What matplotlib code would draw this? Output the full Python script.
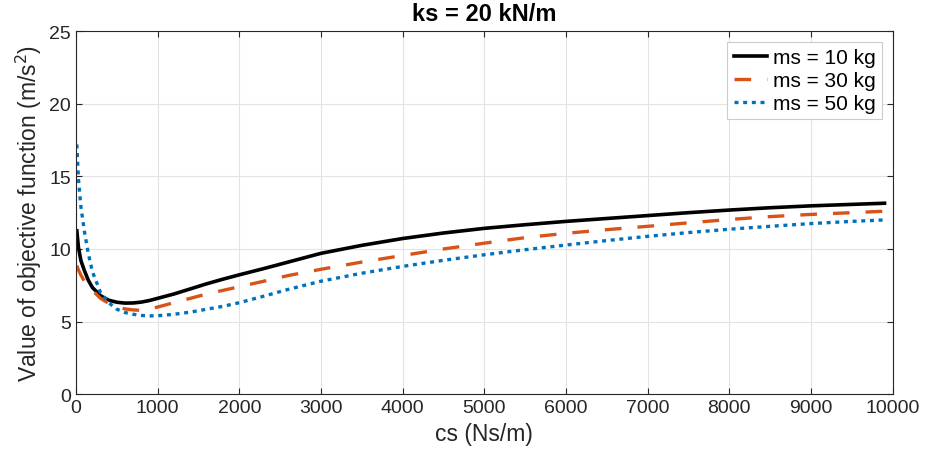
import matplotlib.pyplot as plt

plt.rcParams['font.family'] = ['Liberation Sans', 'DejaVu Sans']

# damping coefficient sweep (Ns/m)
cs = [10, 30, 60, 100, 150, 200, 300, 400, 500, 600, 700, 800, 900, 1000,
      1200, 1400, 1600, 1800, 2000, 2300, 2600, 3000, 3500, 4000, 4500,
      5000, 5500, 6000, 6500, 7000, 7500, 8000, 8500, 9000, 9500, 9900]

# objective function value (m/s^2) for each sprung mass
obj_ms10 = [11.25, 10.1, 9.2, 8.55, 7.85, 7.35, 6.78, 6.47, 6.33, 6.27, 6.28,
            6.34, 6.45, 6.6, 6.9, 7.25, 7.6, 7.92, 8.22, 8.65, 9.1, 9.7, 10.25,
            10.72, 11.1, 11.42, 11.67, 11.9, 12.1, 12.3, 12.5, 12.68, 12.84,
            12.97, 13.07, 13.15]
obj_ms30 = [8.85, 8.55, 8.2, 7.8, 7.45, 7.15, 6.6, 6.25, 6.0, 5.87, 5.8, 5.77,
            5.85, 6.0, 6.3, 6.6, 6.9, 7.15, 7.4, 7.78, 8.17, 8.6, 9.1, 9.55,
            10.0, 10.4, 10.78, 11.08, 11.33, 11.56, 11.8, 12.03, 12.23, 12.38,
            12.5, 12.6]
obj_ms50 = [17.2, 14.8, 12.9, 11.3, 9.7, 8.45, 7.0, 6.3, 5.85, 5.62, 5.5, 5.42,
            5.39, 5.4, 5.5, 5.65, 5.85, 6.05, 6.3, 6.75, 7.22, 7.78, 8.33, 8.8,
            9.22, 9.6, 9.95, 10.27, 10.58, 10.87, 11.13, 11.36, 11.56, 11.75,
            11.9, 12.0]

labels = ['ms = 10 kg', 'ms = 30 kg', 'ms = 50 kg']

fig = plt.figure(figsize=(9.27, 4.6), dpi=100)
ax = fig.add_axes([0.082, 0.141, 0.881, 0.789])

ax.plot(cs, obj_ms10, color='black', lw=2.6, label=labels[0])
ax.plot(cs, obj_ms30, color='#D95319', lw=2.4, dashes=(5.0, 4.8),
        dash_capstyle='butt', label=labels[1])
ax.plot(cs, obj_ms50, color='#0072BD', lw=2.4, dashes=(1.2, 1.4),
        dash_capstyle='butt', label=labels[2])

ax.set_xlim(0, 10000)
ax.set_ylim(0, 25)
ax.set_xticks(range(0, 10001, 1000))
ax.set_yticks(range(0, 26, 5))
ax.grid(True, color='#e3e3e3', lw=0.8)
ax.set_axisbelow(True)

for s in ax.spines.values():
    s.set_color('#262626')
    s.set_linewidth(0.8)
ax.tick_params(direction='in', length=4, width=0.8, colors='#262626',
               labelsize=14, top=True, right=True, labeltop=False, labelright=False)

ax.set_xlabel('cs (Ns/m)', fontsize=16.5, color='#262626', labelpad=4)
ax.set_ylabel('Value of objective function (m/s$^2$)', fontsize=16.5,
              color='#262626', labelpad=4)
ax.set_title('ks = 20 kN/m', fontsize=17, fontweight='bold', pad=8)

leg = ax.legend(loc='upper right', fontsize=15, fancybox=False,
                edgecolor='#cccccc', framealpha=1, handlelength=1.6,
                handletextpad=0.3, labelspacing=0.2, borderpad=0.3,
                borderaxespad=0.5)
leg.get_frame().set_linewidth(0.8)

fig.savefig('out.png', dpi=100)
